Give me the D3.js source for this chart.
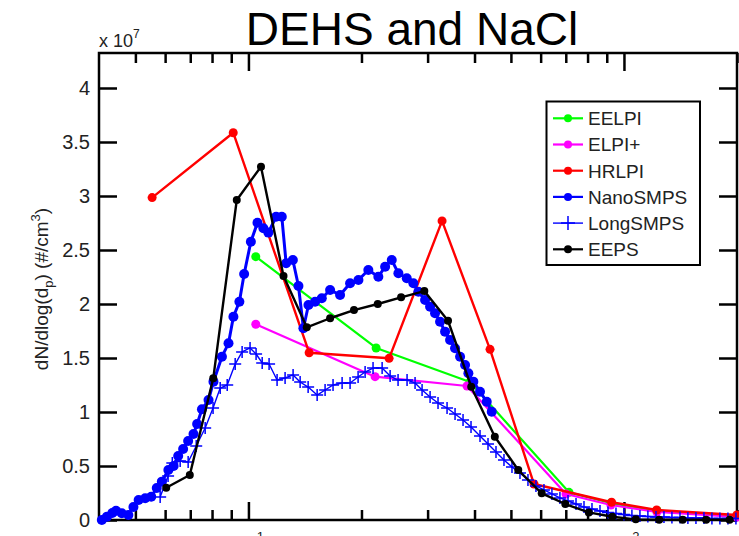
<!DOCTYPE html>
<html>
<head>
<meta charset="utf-8">
<script src="https://cdn.jsdelivr.net/npm/d3@7"></script>
<style>
  body { margin: 0; background: #fff; }
  svg { font-family: "Liberation Sans", Arial, Helvetica, sans-serif; }
</style>
</head>
<body>
<div id="chart"></div>
<script>
// values in units of 1e7 #/cm^3, diameters in nm
const eelpiD = [10.46, 21.88, 38.9, 71.4, 92.3, 122.4, 199.8];
const eelpiN = [2.438, 1.593, 1.278, 0.256, 0.157, 0.088, 0.037];

const elpiD = [10.46, 21.74, 38.2, 70.1, 92.3, 122.4, 199.8];
const elpiN = [1.812, 1.327, 1.241, 0.241, 0.139, 0.074, 0.028];

const hrlpiD = [5.54, 9.11, 14.51, 23.69, 32.78, 43.99, 57.6, 92.7, 122.2, 199.8];
const hrlpiN = [2.985, 3.586, 1.549, 1.497, 2.769, 1.58, 0.333, 0.164, 0.093, 0.046];

const nanoD = [4.07, 4.20, 4.34, 4.44, 4.60, 4.79, 4.94, 5.10, 5.31, 5.51, 5.70, 5.88,
  6.12, 6.32, 6.50, 6.70, 6.91, 7.14, 7.30, 7.52, 7.83, 8.07, 8.50, 8.85, 9.12, 9.46,
  9.74, 10.15, 10.57, 10.96, 11.30, 11.85, 12.27, 12.60, 13.13, 13.59, 14.01, 14.45,
  15.05, 15.68, 16.50, 17.54, 18.65, 19.63, 20.86, 22.18, 23.12, 24.08, 25.08, 26.40,
  27.49, 28.35, 29.54, 30.46, 31.40, 32.38, 33.39, 34.43, 35.50, 36.61, 37.75, 38.52,
  39.71, 41.37, 43.11, 44.45];
const nanoN = [0, 0.031, 0.065, 0.086, 0.062, 0.046, 0.120, 0.185, 0.201, 0.216, 0.296, 0.355,
  0.463, 0.500, 0.593, 0.657, 0.731, 0.796, 0.889, 1.025, 1.111, 1.281, 1.512, 1.636, 1.882, 2.021,
  2.278, 2.577, 2.753, 2.701, 2.661, 2.808, 2.808, 2.377, 2.407, 2.167, 1.775, 1.991,
  2.021, 2.053, 2.130, 2.083, 2.192, 2.222, 2.315, 2.253, 2.345, 2.407, 2.284, 2.238,
  2.192, 2.114, 2.037, 1.975, 1.914, 1.836, 1.744, 1.667, 1.590, 1.512, 1.435, 1.358,
  1.281, 1.188, 1.095, 1.003];

const longD = [5.82, 6.11, 6.27, 6.58, 6.91, 7.26, 7.67, 8.05, 8.41, 8.78, 9.22, 9.62,
  10.10, 10.48, 10.88, 11.35, 11.92, 12.52, 13.15, 13.73, 14.42, 15.24, 16.00, 16.80,
  17.76, 18.65, 19.59, 20.45, 21.47, 22.70, 23.84, 25.03, 26.45, 27.78, 29.00, 30.46,
  31.98, 33.80, 35.50, 37.28, 39.15, 41.37, 43.45, 45.63, 47.92, 50.33, 52.86, 55.51,
  58.30, 61.23, 64.30, 67.53, 70.96, 74.53, 78.27, 82.20, 86.34, 90.68, 95.23, 100.0,
  105.0, 110.3, 115.8, 121.7, 127.8, 134.2, 141.0, 148.0, 155.5, 163.3, 171.5, 180.1,
  189.2, 198.7];
const longN = [0.213, 0.407, 0.528, 0.546, 0.537, 0.685, 0.852, 1.037, 1.222, 1.25, 1.444, 1.556,
  1.593, 1.537, 1.454, 1.444, 1.296, 1.315, 1.343, 1.278, 1.231, 1.157, 1.204, 1.25,
  1.269, 1.269, 1.324, 1.370, 1.407, 1.407, 1.333, 1.296, 1.296, 1.269, 1.204, 1.139,
  1.083, 1.037, 0.981, 0.926, 0.861, 0.778, 0.704, 0.630, 0.556, 0.491, 0.435, 0.370,
  0.315, 0.278, 0.241, 0.204, 0.176, 0.148, 0.120, 0.102, 0.083, 0.069, 0.060, 0.051,
  0.042, 0.037, 0.032, 0.028, 0.028, 0.023, 0.023, 0.019, 0.019, 0.019, 0.014, 0.014,
  0.014, 0.014];

const eepsD = [6.04, 6.98, 8.06, 9.31, 10.8, 12.4, 14.3, 16.5, 19.1, 22.1, 25.5, 29.4,
  34.0, 39.2, 45.3, 52.3, 60.4, 69.8, 80.6, 93.1, 107.5, 124.1, 143.3, 165.5, 191.1];
const eepsN = [0.299, 0.417, 1.312, 2.963, 3.271, 2.259, 1.784, 1.868, 1.944, 2.0, 2.062, 2.12,
  1.845, 1.234, 0.771, 0.463, 0.247, 0.148, 0.07, 0.03, 0.006, 0.003, 0.003, 0.003, 0.003];

const yTicks = [0, 0.5, 1, 1.5, 2, 2.5, 3, 3.5, 4];
const xMajor = [10, 100];
const xMinor = [5, 6, 7, 8, 9, 20, 30, 40, 50, 60, 70, 80, 90, 200];

const series = [
  {name: "EELPI", d: eelpiD, n: eelpiN, color: "#00ff00", width: 2.2, marker: "dot", r: 4.5},
  {name: "ELPI+", d: elpiD, n: elpiN, color: "#ff00ff", width: 2.2, marker: "dot", r: 4.5},
  {name: "HRLPI", d: hrlpiD, n: hrlpiN, color: "#ff0000", width: 2.4, marker: "dot", r: 4.5},
  {name: "NanoSMPS", d: nanoD, n: nanoN, color: "#0000ff", width: 3, marker: "dot", r: 5},
  {name: "LongSMPS", d: longD, n: longN, color: "#0000ff", width: 1.4, marker: "plus", r: 6},
  {name: "EEPS", d: eepsD, n: eepsN, color: "#000000", width: 2.4, marker: "dot", r: 4}
];

const W = 739, H = 536;
const box = {left: 99, right: 737, top: 53, bottom: 520};

const svg = d3.select("#chart").append("svg")
  .attr("width", W).attr("height", H);

const x = d3.scaleLog().domain([4, 200]).range([box.left, box.right]);
const y = d3.scaleLinear().domain([0, 4.324]).range([box.bottom, box.top]);

// title and exponent
svg.append("text")
  .attr("x", 412).attr("y", 45)
  .attr("text-anchor", "middle")
  .style("font-size", "46px")
  .text("DEHS and NaCl");

const ex = svg.append("text")
  .attr("x", box.left).attr("y", 47)
  .attr("fill", "#222")
  .style("font-size", "18px");
ex.append("tspan").text("x 10");
ex.append("tspan").attr("dy", -9).style("font-size", "12px").text("7");

// axes
function styleAxis(g) {
  g.select(".domain").remove();
  g.selectAll(".tick line").attr("stroke", "#000").attr("stroke-width", 2.5);
  g.selectAll(".tick text").attr("fill", "#222").style("font-size", "20px");
}

svg.append("g")
  .attr("transform", `translate(${box.left},0)`)
  .call(d3.axisLeft(y).tickValues(yTicks).tickSize(-18).tickPadding(9).tickFormat(d3.format("")))
  .call(styleAxis);

svg.append("g")
  .attr("transform", `translate(${box.right},0)`)
  .call(d3.axisRight(y).tickValues(yTicks).tickSize(-18).tickFormat(""))
  .call(styleAxis);

[[d3.axisBottom, box.bottom], [d3.axisTop, box.top]].forEach(([ax, ty]) => {
  svg.append("g").attr("transform", `translate(0,${ty})`)
    .call(ax(x).tickValues(xMinor).tickSize(-10).tickFormat(""))
    .call(styleAxis);
  svg.append("g").attr("transform", `translate(0,${ty})`)
    .call(ax(x).tickValues(xMajor).tickSize(-18).tickFormat(""))
    .call(styleAxis);
});

svg.append("rect")
  .attr("x", box.left).attr("y", box.top)
  .attr("width", box.right - box.left).attr("height", box.bottom - box.top)
  .attr("fill", "none").attr("stroke", "#000").attr("stroke-width", 2.5);

// x tick labels (the reference crops them at the bottom edge)
xMajor.forEach((v, i) => {
  const t = svg.append("text")
    .attr("x", x(v) - 14).attr("y", 553)
    .attr("fill", "#222")
    .style("font-size", "20px");
  t.append("tspan").text("10");
  t.append("tspan").attr("dy", -12).style("font-size", "13px").text(String(i + 1));
});

// y label
const yl = svg.append("text")
  .attr("transform", "translate(48,289) rotate(-90)")
  .attr("text-anchor", "middle")
  .attr("fill", "#222")
  .style("font-size", "19px");
yl.append("tspan").text("dN/dlog(d");
yl.append("tspan").attr("dy", 5).style("font-size", "13px").text("p");
yl.append("tspan").attr("dy", -5).text(") (#/cm");
yl.append("tspan").attr("dy", -8).style("font-size", "13px").text("3");
yl.append("tspan").attr("dy", 8).text(")");

// series
const line = d3.line().x(p => x(p[0])).y(p => y(p[1]));

function plusPath(cx, cy, r) {
  const p = d3.path();
  p.moveTo(cx - r, cy); p.lineTo(cx + r, cy);
  p.moveTo(cx, cy - r); p.lineTo(cx, cy + r);
  return p.toString();
}

series.forEach(s => {
  const pts = s.d.map((d, i) => [d, s.n[i]]);
  const g = svg.append("g");
  g.append("path")
    .attr("d", line(pts))
    .attr("fill", "none")
    .attr("stroke", s.color)
    .attr("stroke-width", s.width)
    .attr("stroke-linejoin", "round");
  if (s.marker === "dot") {
    g.selectAll("circle").data(pts).enter().append("circle")
      .attr("cx", p => x(p[0])).attr("cy", p => y(p[1]))
      .attr("r", s.r).attr("fill", s.color);
  } else {
    g.selectAll("path.m").data(pts).enter().append("path")
      .attr("class", "m")
      .attr("d", p => plusPath(x(p[0]), y(p[1]), s.r))
      .attr("stroke", s.color).attr("stroke-width", 1.5);
  }
});

// legend
const lg = svg.append("g");
lg.append("rect")
  .attr("x", 546.5).attr("y", 101.5).attr("width", 153.5).attr("height", 163.5)
  .attr("fill", "#fff").attr("stroke", "#000").attr("stroke-width", 2);

const ly = d3.scalePoint().domain(series.map(s => s.name)).range([118.3, 249.3]);
series.forEach(s => {
  const yy = ly(s.name);
  lg.append("line")
    .attr("x1", 553).attr("x2", 583).attr("y1", yy).attr("y2", yy)
    .attr("stroke", s.color).attr("stroke-width", s.marker === "plus" ? 1.4 : 2.2);
  if (s.marker === "dot") {
    lg.append("circle").attr("cx", 568).attr("cy", yy).attr("r", 4).attr("fill", s.color);
  } else {
    lg.append("path").attr("d", plusPath(568, yy, 7)).attr("stroke", s.color).attr("stroke-width", 1.5);
  }
  lg.append("text")
    .attr("x", 588).attr("y", yy).attr("dy", "0.36em")
    .attr("fill", "#222")
    .style("font-size", "19px")
    .text(s.name);
});
</script>
</body>
</html>
